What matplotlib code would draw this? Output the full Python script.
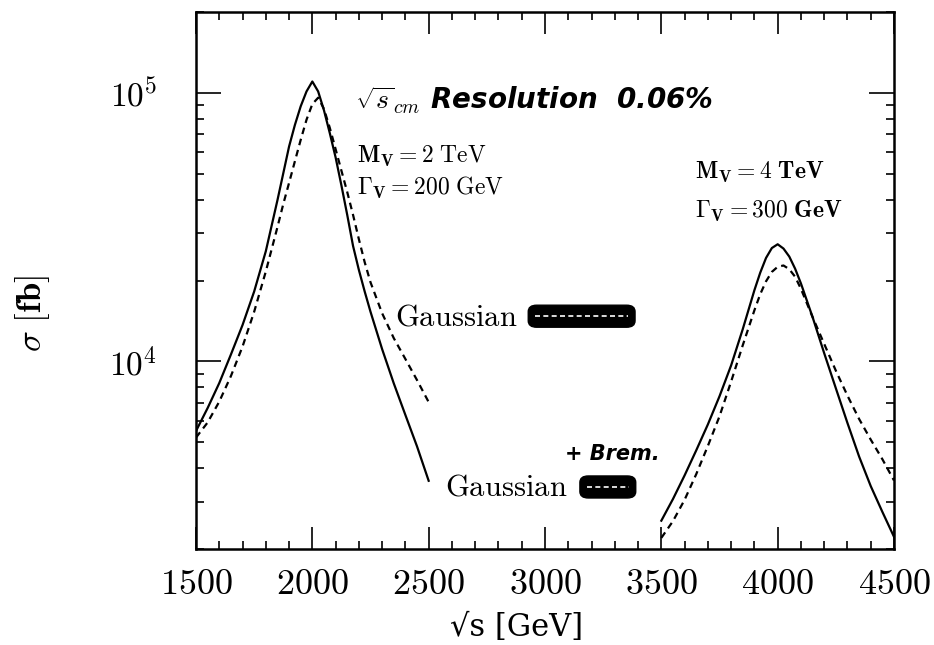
import matplotlib.pyplot as plt
from matplotlib.patches import FancyBboxPatch
from matplotlib.ticker import MultipleLocator, LogLocator, NullFormatter

plt.rcParams['mathtext.fontset'] = 'cm'
plt.rcParams['font.family'] = ['DejaVu Serif']

# M_V = 2 TeV resonance, sqrt(s) in GeV, sigma in fb
x_low = [1500, 1550, 1600, 1650, 1700, 1750, 1800, 1850, 1875, 1900, 1925, 1950, 1975,
         2000, 2025, 2050, 2075, 2100, 2125, 2150, 2175, 2200, 2225, 2250,
         2300, 2350, 2400, 2450, 2500]
gauss_low = [5500, 6700, 8300, 10600, 13650, 18200, 25700, 39800, 50100, 63100, 75900, 89100, 101200,
             110200, 101200, 86100, 70800, 57500, 45200, 35100, 26900, 21900, 18200, 15300,
             11100, 8280, 6310, 4820, 3590]
brem_low = [5200, 5920, 7080, 8810, 11350, 15300, 21600, 31600, 38500, 46200, 55600, 66800, 79400,
            90800, 95900, 87100, 74100, 61700, 51300, 42700, 35100, 28500, 23400, 19700,
            15100, 12200, 10200, 8510, 7050]

# M_V = 4 TeV resonance
x_high = [3500, 3550, 3600, 3650, 3700, 3750, 3800, 3850, 3900, 3925, 3950, 3975,
          4000, 4025, 4050, 4075, 4100, 4150, 4200, 4250, 4300, 4350, 4400, 4450, 4500]
gauss_high = [2550, 3070, 3760, 4660, 5820, 7410, 9660, 13180, 18400, 21380, 24270, 26420,
              27290, 26300, 24550, 22130, 19500, 14620, 10720, 7940, 5890, 4420, 3430, 2750, 2220]
brem_high = [2200, 2540, 3050, 3800, 4840, 6240, 8410, 11480, 15490, 17780, 19860, 21530,
             22490, 22750, 22030, 20650, 18620, 14620, 11610, 9230, 7450, 6100, 5110, 4320, 3600]

x_ticks = [1500, 2000, 2500, 3000, 3500, 4000, 4500]
y_ticks = [1e4, 1e5]
y_tick_labels = [r'$10^{4}$', r'$10^{5}$']

fig = plt.figure(figsize=(9.34, 6.45), dpi=100)
ax = fig.add_axes([196 / 934, 1 - 549 / 645, 698 / 934, 537 / 645])

for xs, solid, dashed in [(x_low, gauss_low, brem_low), (x_high, gauss_high, brem_high)]:
    ax.plot(xs, solid, color='black', lw=1.6, solid_joinstyle='round')
    ax.plot(xs, dashed, color='black', lw=1.6, ls='--', dashes=(3, 2.2))

ax.set_yscale('log')
ax.set_xlim(1500, 4500)
ax.set_ylim(2000, 2e5)

ax.set_xticks(x_ticks)
ax.set_xticklabels([f'${t}$' for t in x_ticks], fontsize=26)
ax.xaxis.set_minor_locator(MultipleLocator(100))
ax.set_yticks(y_ticks)
ax.set_yticklabels(y_tick_labels, fontsize=24)
ax.yaxis.set_minor_locator(LogLocator(base=10, subs=range(2, 10)))
ax.yaxis.set_minor_formatter(NullFormatter())

ax.tick_params(which='both', direction='in', top=True, right=True, width=1.2)
ax.tick_params(axis='x', which='major', length=16, pad=13)
ax.tick_params(axis='y', which='major', length=18, pad=28)
ax.tick_params(which='minor', length=6)
for sp in ax.spines.values():
    sp.set_linewidth(1.8)

fig.text(33 / 934, 1 - 314 / 645, r'$\mathbf{\sigma\ [fb]}$', rotation=90,
         ha='center', va='center', fontsize=25)
fig.text(517 / 934, 1 - 627 / 645, '\u221as [GeV]', family='DejaVu Serif',
         ha='center', va='center', fontsize=22)

# handwritten-style notes
hand = dict(family='DejaVu Sans', fontweight='bold', fontstyle='italic')
ax.text(0.228, 0.836, r'$\sqrt{s}_{cm}$ Resolution  0.06%', transform=ax.transAxes,
        ha='left', va='center', fontsize=20, **hand)
ax.text(0.529, 0.177, '+ Brem.', transform=ax.transAxes,
        ha='left', va='center', fontsize=15, **hand)

ax.text(0.231, 0.730, r'$\mathbf{M}_{\mathbf{V}}{=}2\ \mathrm{TeV}$', transform=ax.transAxes,
        ha='left', va='center', fontsize=17)
ax.text(0.231, 0.672, r'$\mathbf{\Gamma}_{\mathbf{V}}{=}200\ \mathrm{GeV}$', transform=ax.transAxes,
        ha='left', va='center', fontsize=17)
ax.text(0.715, 0.702, r'$\mathbf{M_{V}{=}4\ TeV}$', transform=ax.transAxes,
        ha='left', va='center', fontsize=17)
ax.text(0.715, 0.629, r'$\mathbf{\Gamma_{V}{=}300\ GeV}$', transform=ax.transAxes,
        ha='left', va='center', fontsize=17)

ax.text(0.285, 0.432, r'$\mathrm{Gaussian}$', transform=ax.transAxes,
        ha='left', va='center', fontsize=22)
ax.text(0.357, 0.115, r'$\mathrm{Gaussian}$', transform=ax.transAxes,
        ha='left', va='center', fontsize=22)

# scribbled-over legend samples
for x0, x1, y0, y1 in [(0.476, 0.629, 0.413, 0.454), (0.550, 0.630, 0.095, 0.136)]:
    ax.add_patch(FancyBboxPatch((x0, y0), x1 - x0, y1 - y0, transform=ax.transAxes,
                                boxstyle='round,pad=0,rounding_size=0.012',
                                fc='black', ec='black', lw=1))
    ax.plot([x0 + 0.01, x1 - 0.01], [(y0 + y1) / 2] * 2, transform=ax.transAxes,
            color='white', lw=1.2, ls='--', dashes=(3, 2))

fig.savefig('out.png', dpi=100)
